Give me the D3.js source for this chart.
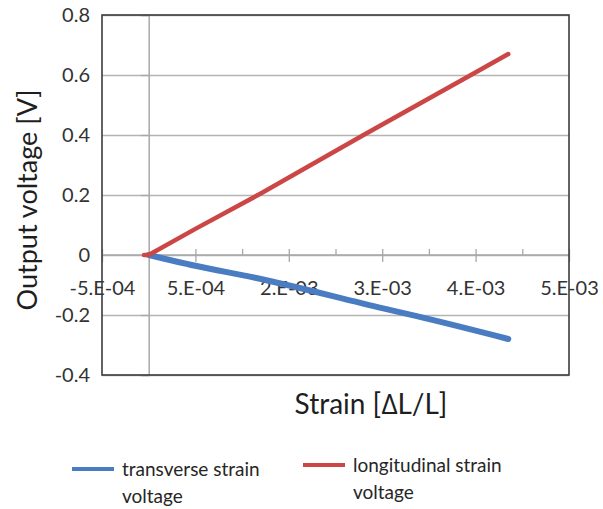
<!DOCTYPE html>
<html>
<head>
<meta charset="utf-8">
<script src="https://cdn.jsdelivr.net/npm/d3@7/dist/d3.min.js"></script>
<style>
  html, body { margin: 0; padding: 0; background: #fff; }
  svg { display: block; font-family: Lato, "Open Sans", sans-serif; }
</style>
</head>
<body>
<svg id="chart" width="603" height="509"></svg>
<script>
// ---- data ----
const strainLong = [-0.00005, 0, 0.0005, 0.0012, 0.0023, 0.00345, 0.00385];
const voltLong   = [0, 0, 0.087, 0.205, 0.4, 0.6, 0.67];
const strainTrans = [0, 0.0005, 0.00114, 0.00251, 0.00287, 0.00385];
const voltTrans   = [0, -0.036, -0.076, -0.178, -0.204, -0.28];
const xTickValues = [-0.0005, 0.0005, 0.0015, 0.0025, 0.0035, 0.0045];
const xTickLabels = ["-5.E-04", "5.E-04", "2.E-03", "3.E-03", "4.E-03", "5.E-03"];
const xMinorTicks = [0.001, 0.002, 0.003, 0.004];
const yTickValues = [-0.4, -0.2, 0, 0.2, 0.4, 0.6, 0.8];
const yTickLabels = ["-0.4", "-0.2", "0", "0.2", "0.4", "0.6", "0.8"];
const seriesNames = ["transverse strain", "longitudinal strain"];
const xTitle = "Strain [\u2206L/L]";
const yTitle = "Output voltage [V]";

// ---- layout ----
const svg = d3.select("#chart");
const L = 102, R = 569, T = 15, B = 375;
const x = d3.scaleLinear().domain([-0.0005, 0.0045]).range([L, R]);
const y = d3.scaleLinear().domain([-0.4, 0.8]).range([B, T]);
const blue = "#4a7cc2", red = "#cc4646";

// gridlines
svg.append("g")
  .attr("transform", `translate(${L},0)`)
  .call(d3.axisLeft(y).tickValues(yTickValues).tickSize(-(R - L)).tickFormat(""))
  .call(g => g.select(".domain").remove())
  .call(g => g.selectAll("line").attr("stroke", "#b4b4b4").attr("stroke-width", 1.3));

// y tick labels
svg.append("g")
  .attr("transform", `translate(${L},0)`)
  .call(d3.axisLeft(y).tickValues(yTickValues).tickSize(0).tickPadding(12)
        .tickFormat((d, i) => yTickLabels[i]))
  .call(g => g.select(".domain").remove())
  .call(g => g.selectAll("text").attr("font-size", 20).attr("fill", "#333")
        .attr("font-family", "Lato, sans-serif"));

// vertical value axis at x = 0
const x0 = x(0);
svg.append("g")
  .attr("transform", `translate(${x0},0)`)
  .call(d3.axisLeft(y).tickValues(yTickValues).tickSize(8).tickFormat(""))
  .call(g => g.select(".domain").attr("stroke", "#a8a8a8").attr("stroke-width", 1.5))
  .call(g => g.selectAll("line").attr("stroke", "#a8a8a8").attr("stroke-width", 1.3));

// horizontal category axis at y = 0
const y0 = y(0);
svg.append("g")
  .attr("transform", `translate(0,${y0})`)
  .call(d3.axisTop(x).tickValues(xMinorTicks).tickSize(6).tickFormat(""))
  .call(g => g.select(".domain").remove())
  .call(g => g.selectAll("line").attr("stroke", "#a8a8a8").attr("stroke-width", 1.3));
svg.append("g")
  .attr("transform", `translate(0,${y0 - 6})`)
  .call(d3.axisBottom(x).tickValues(xTickValues).tickSize(13).tickFormat(""))
  .call(g => g.select(".domain").remove())
  .call(g => g.selectAll("line").attr("stroke", "#a8a8a8").attr("stroke-width", 1.3));
svg.append("line")
  .attr("x1", L).attr("x2", R).attr("y1", y0).attr("y2", y0)
  .attr("stroke", "#a8a8a8").attr("stroke-width", 1.5);
svg.append("g")
  .attr("transform", `translate(0,${y0})`)
  .call(d3.axisBottom(x).tickValues(xTickValues).tickSize(0).tickPadding(26)
        .tickFormat((d, i) => xTickLabels[i]))
  .call(g => g.select(".domain").remove())
  .call(g => g.selectAll("text").attr("font-size", 20).attr("fill", "#333")
        .attr("font-family", "Lato, sans-serif"));

// plot border
svg.append("rect")
  .attr("x", L).attr("y", T).attr("width", R - L).attr("height", B - T)
  .attr("fill", "none").attr("stroke", "#3c3c3c").attr("stroke-width", 1.6);

// series lines
const lineSmooth = d3.line().x(d => x(d[0])).y(d => y(d[1])).curve(d3.curveMonotoneX);
const lineStraight = d3.line().x(d => x(d[0])).y(d => y(d[1]));
svg.append("path")
  .datum(strainTrans.map((s, i) => [s, voltTrans[i]]))
  .attr("d", lineSmooth).attr("fill", "none").attr("stroke", blue)
  .attr("stroke-width", 6).attr("stroke-linejoin", "round").attr("stroke-linecap", "round");
svg.append("path")
  .datum(strainLong.map((s, i) => [s, voltLong[i]]))
  .attr("d", lineStraight).attr("fill", "none").attr("stroke", red)
  .attr("stroke-width", 4.5).attr("stroke-linejoin", "round").attr("stroke-linecap", "round");

// axis titles
svg.append("text")
  .attr("x", 371).attr("y", 414).attr("text-anchor", "middle")
  .attr("font-size", 28).attr("fill", "#1e1e1e").text(xTitle);
svg.append("text")
  .attr("transform", "translate(37,200) rotate(-90)")
  .attr("text-anchor", "middle")
  .attr("font-size", 27).attr("fill", "#1e1e1e").text(yTitle);

// legend
const legend = [
  { name: seriesNames[0], color: blue, lx: 72, ly: 469, tx: 122, ty: 476 },
  { name: seriesNames[1], color: red,  lx: 303, ly: 465, tx: 353, ty: 472 }
];
legend.forEach(d => {
  svg.append("line").attr("x1", d.lx).attr("x2", d.lx + 42)
    .attr("y1", d.ly).attr("y2", d.ly)
    .attr("stroke", d.color).attr("stroke-width", 4);
  const t = svg.append("text").attr("x", d.tx).attr("y", d.ty)
    .attr("font-size", 19).attr("fill", "#262626");
  t.append("tspan").attr("x", d.tx).text(d.name);
  t.append("tspan").attr("x", d.tx).attr("dy", 27).text("voltage");
});
</script>
</body>
</html>
